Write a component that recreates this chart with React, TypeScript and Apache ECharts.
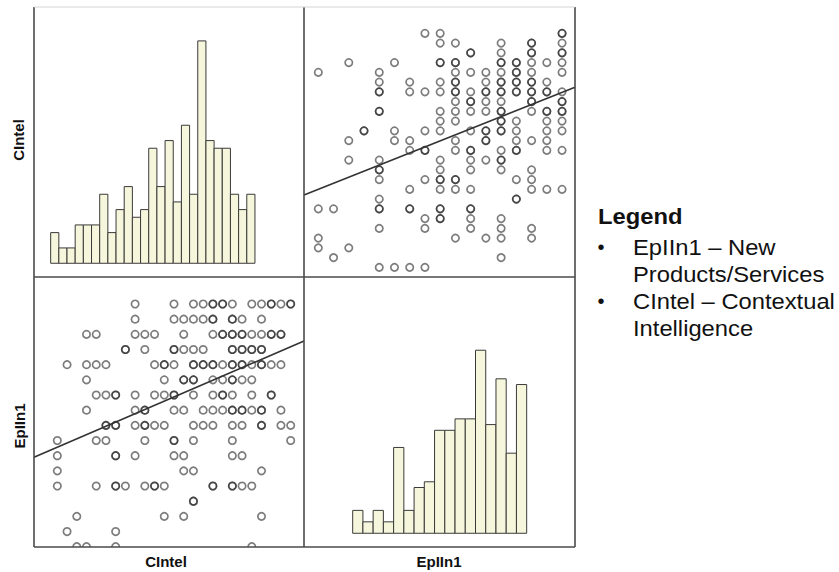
import React, { useEffect, useRef } from "react";
import * as echarts from "echarts";

// CIntel: contextual intelligence sum score (25 levels)
const cintelScores = [6, 7, 8, 9, 10, 11, 12, 13, 14, 15, 16, 17, 18, 19, 20, 21, 22, 23, 24, 25, 26, 27, 28, 29, 30];
const cintelCounts = [4, 2, 2, 5, 5, 5, 9, 4, 7, 10, 6, 7, 15, 10, 16, 8, 18, 9, 29, 16, 15, 15, 9, 7, 9];

// EpIIn1: new products/services sum score (17 levels)
const epiinScores = [4, 5, 6, 7, 8, 9, 10, 11, 12, 13, 14, 15, 16, 17, 18, 19, 20];
const epiinCounts = [4, 2, 4, 2, 15, 4, 8, 9, 18, 18, 20, 20, 32, 19, 27, 14, 26];

// CIntel scores observed at each EpIIn1 level (repeats = overlapping cases)
const cintelAtEpiin: number[][] = [
  [8, 9, 12, 26],
  [7, 12],
  [8, 17, 19, 27],
  [20, 20],
  [6, 10, 12, 12, 13, 15, 16, 16, 17, 22, 22, 24, 24, 25, 26],
  [6, 19, 20, 27],
  [6, 12, 12, 14, 18, 19, 24, 25],
  [6, 10, 11, 15, 18, 18, 20, 24, 30],
  [11, 11, 12, 12, 14, 15, 15, 16, 17, 20, 21, 22, 24, 25, 27, 27, 29, 30],
  [9, 14, 15, 15, 18, 19, 21, 22, 23, 24, 24, 25, 25, 26, 27, 27, 29],
  [10, 11, 12, 12, 14, 16, 17, 18, 18, 20, 22, 23, 23, 24, 26, 28, 28],
  [9, 17, 19, 19, 20, 20, 22, 23, 24, 24, 25, 26],
  [7, 9, 10, 11, 16, 17, 17, 18, 20, 20, 21, 21, 22, 22, 23, 24, 24, 25, 25, 26, 27, 27, 28, 29],
  [13, 13, 15, 18, 18, 19, 20, 21, 24, 24, 25, 25, 26, 26, 27, 27],
  [9, 10, 14, 15, 16, 19, 22, 23, 23, 24, 24, 25, 25, 26, 27, 28, 28, 29, 29],
  [14, 18, 19, 20, 21, 22, 22, 24, 24, 25, 27],
  [14, 18, 20, 21, 22, 22, 23, 23, 24, 26, 27, 28, 28, 29, 30, 30],
];

// Linear fit lines (intercept, slope)
const fitEpiinOnCintel = { intercept: 8.9, slope: 0.276 };
const fitCintelOnEpiin = { intercept: 11.52, slope: 0.621 };

const legendTitle = "Legend";
const legendLines = [
  { bullet: true, text: "EpIIn1 – New" },
  { bullet: false, text: "Products/Services" },
  { bullet: true, text: "CIntel – Contextual" },
  { bullet: false, text: "Intelligence" },
];

const FONT = "'Liberation Sans', Arial, Helvetica, sans-serif";

export default function App() {
  const ref = useRef<HTMLDivElement>(null);

  useEffect(() => {
    document.body.style.margin = "0";
    if (!ref.current) return;
    const chart = echarts.init(ref.current, undefined, { renderer: "svg" });

    const pointsCE: number[][] = []; // [cintel, epiin]
    const pointsEC: number[][] = []; // [epiin, cintel]
    epiinScores.forEach((p, i) => {
      cintelAtEpiin[i].forEach((c) => {
        pointsCE.push([c, p]);
        pointsEC.push([p, c]);
      });
    });

    const histCI = cintelScores.map((s, i) => [s, cintelCounts[i]]);
    const histEP = epiinScores.map((s, i) => [s, epiinCounts[i]]);

    const ranges = {
      g0x: [3.46, 36.5], g0y: [-1.79, 33.42],
      g1x: [3.06, 20.85], g1y: [5.01, 32.7],
      g2x: [3.6, 31.37], g2y: [3.98, 21.78],
      g3x: [-1.255, 25.22], g3y: [-2.4, 44.8],
    };

    const mkAxis = (gi: number, r: number[]) => ({
      type: "value", gridIndex: gi, min: r[0], max: r[1], show: false,
    });

    const histRender = (params: any, api: any) => {
      const x = api.value(0);
      const n = api.value(1);
      const p0 = api.coord([x - 0.5, n]);
      const p1 = api.coord([x + 0.5, 0]);
      return {
        type: "rect",
        shape: { x: p0[0], y: p0[1], width: p1[0] - p0[0], height: p1[1] - p0[1] },
        style: { fill: "#f6f6dc", stroke: "#3a3a3a", lineWidth: 1 },
      };
    };
    const dotRender = (params: any, api: any) => {
      const pt = api.coord([api.value(0), api.value(1)]);
      return {
        type: "circle",
        shape: { cx: pt[0], cy: pt[1], r: 3.7 },
        style: { fill: "none", stroke: "rgba(30,30,30,0.58)", lineWidth: 1.7 },
      };
    };

    const fitLine = (fit: { intercept: number; slope: number }, r: number[]) =>
      r.map((x) => [x, fit.intercept + fit.slope * x]);

    const border = "#4a4a4a";
    const vline = (x: number) => ({
      type: "line", shape: { x1: x, y1: 7, x2: x, y2: 547 },
      style: { stroke: border, lineWidth: 1.6 }, z: 10,
    });
    const hline = (y: number, color = border, w = 1.6) => ({
      type: "line", shape: { x1: 34, y1: y, x2: 575, y2: y },
      style: { stroke: color, lineWidth: w }, z: 10,
    });

    const legendGraphics: any[] = [
      {
        type: "text", x: 598, y: 216, scaleX: 1.08,
        style: { text: legendTitle, font: `bold 22px ${FONT}`, fill: "#111", align: "left", verticalAlign: "middle" },
      },
    ];
    const lineY = [247, 274, 301, 328];
    legendLines.forEach((l, i) => {
      if (l.bullet) {
        legendGraphics.push({
          type: "text", x: 601, y: lineY[i],
          style: { text: "•", font: `20px ${FONT}`, fill: "#111", align: "center", verticalAlign: "middle" },
        });
      }
      legendGraphics.push({
        type: "text", x: 633, y: lineY[i], scaleX: 1.08,
        style: { text: l.text, font: `22px ${FONT}`, fill: "#111", align: "left", verticalAlign: "middle" },
      });
    });

    chart.setOption({
      animation: false,
      backgroundColor: "#ffffff",
      grid: [
        { left: 34, top: 7, width: 270, height: 270 },
        { left: 304, top: 7, width: 271, height: 270 },
        { left: 34, top: 277, width: 270, height: 270 },
        { left: 304, top: 277, width: 271, height: 270 },
      ],
      xAxis: [mkAxis(0, ranges.g0x), mkAxis(1, ranges.g1x), mkAxis(2, ranges.g2x), mkAxis(3, ranges.g3x)],
      yAxis: [mkAxis(0, ranges.g0y), mkAxis(1, ranges.g1y), mkAxis(2, ranges.g2y), mkAxis(3, ranges.g3y)],
      series: [
        { type: "custom", xAxisIndex: 0, yAxisIndex: 0, data: histCI, renderItem: histRender, encode: { x: 0, y: 1 } },
        { type: "custom", xAxisIndex: 3, yAxisIndex: 3, data: histEP, renderItem: histRender, encode: { x: 0, y: 1 } },
        { type: "custom", xAxisIndex: 1, yAxisIndex: 1, data: pointsEC, renderItem: dotRender, clip: true, encode: { x: 0, y: 1 } },
        { type: "custom", xAxisIndex: 2, yAxisIndex: 2, data: pointsCE, renderItem: dotRender, clip: true, encode: { x: 0, y: 1 } },
        {
          type: "line", xAxisIndex: 1, yAxisIndex: 1, data: fitLine(fitCintelOnEpiin, ranges.g1x),
          symbol: "none", lineStyle: { color: "#333", width: 1.6 }, z: 5, silent: true,
        },
        {
          type: "line", xAxisIndex: 2, yAxisIndex: 2, data: fitLine(fitEpiinOnCintel, ranges.g2x),
          symbol: "none", lineStyle: { color: "#333", width: 1.6 }, z: 5, silent: true,
        },
      ],
      graphic: [
        vline(34), vline(304), vline(575),
        hline(7, "#d4d4d4", 1), hline(277), hline(547),
        {
          type: "text", x: 18, y: 140, rotation: Math.PI / 2,
          style: { text: "CIntel", font: `bold 15px ${FONT}`, fill: "#111", align: "center", verticalAlign: "middle" },
        },
        {
          type: "text", x: 19, y: 426, rotation: Math.PI / 2,
          style: { text: "EpIIn1", font: `bold 15px ${FONT}`, fill: "#111", align: "center", verticalAlign: "middle" },
        },
        {
          type: "text", x: 166, y: 561,
          style: { text: "CIntel", font: `bold 15px ${FONT}`, fill: "#111", align: "center", verticalAlign: "middle" },
        },
        {
          type: "text", x: 439, y: 561,
          style: { text: "EpIIn1", font: `bold 15px ${FONT}`, fill: "#111", align: "center", verticalAlign: "middle" },
        },
        ...legendGraphics,
      ],
    });

    return () => chart.dispose();
  }, []);

  return <div ref={ref} style={{ width: 839, height: 572 }} />;
}
